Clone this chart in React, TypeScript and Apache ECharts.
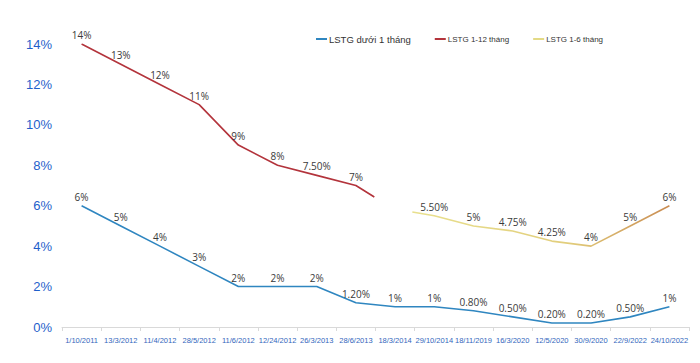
import React, { useEffect, useRef } from "react";
import * as echarts from "echarts";

const categories = [
  "1/10/2011", "13/3/2012", "11/4/2012", "28/5/2012", "11/6/2012", "12/24/2012",
  "26/3/2013", "28/6/2013", "18/3/2014", "29/10/2014", "18/11/2019", "16/3/2020",
  "12/5/2020", "30/9/2020", "22/9/2022", "24/10/2022",
];
const blueValues = [6, 5, 4, 3, 2, 2, 2, 1.2, 1, 1, 0.8, 0.5, 0.2, 0.2, 0.5, 1];
const redValues = [14, 13, 12, 11, 9, 8, 7.5, 7];
const redTail: [number, number] = [7.47, 6.43];
const yellowStartIndex = 9;
const yellowValues = [5.5, 5, 4.75, 4.25, 4, 5, 6];
const yellowHead: [number, number] = [8.44, 5.69];
const yTicks = { min: 0, max: 14, interval: 2 };
const seriesNames = ["LSTG dưới 1 tháng", "LSTG 1-12 tháng", "LSTG 1-6 tháng"];

const fmt = (v: number) => (Number.isInteger(v) ? `${v}%` : `${v.toFixed(2)}%`);

export default function App() {
  const ref = useRef<HTMLDivElement>(null);
  useEffect(() => {
    if (!ref.current) return;
    const chart = echarts.init(ref.current, null, { renderer: "svg" });
    const labelStyle = {
      show: true,
      position: "top" as const,
      distance: 4,
      fontSize: 10,
      color: "#3A3A3A",
      fontFamily: "Open Sans, Liberation Sans, sans-serif",
      formatter: (p: any) => fmt(p.value[1]),
    };
    const blueData = blueValues.map((v, i) => [i, v]);
    const redData: any[] = redValues.map((v, i) => [i, v]);
    redData.push({ value: redTail, label: { show: false } });
    const yellowData: any[] = [{ value: yellowHead, label: { show: false } }];
    yellowValues.forEach((v, i) => yellowData.push([yellowStartIndex + i, v]));

    chart.setOption({
      animation: false,
      backgroundColor: "#ffffff",
      textStyle: { fontFamily: "Liberation Sans, Arial, sans-serif" },
      legend: {
        left: 316,
        top: 34,
        icon: "rect",
        itemWidth: 11,
        itemHeight: 2,
        itemGap: 24,
        padding: 0,
        textStyle: { fontSize: 9.5, color: "#333333", padding: [0, 0, 0, -3] },
        data: [
          { name: seriesNames[0] },
          { name: seriesNames[1], textStyle: { fontSize: 8 } },
          { name: seriesNames[2], textStyle: { fontSize: 8 } },
        ],
      },
      grid: { left: 62, right: 11, top: 44, bottom: 36, containLabel: false },
      xAxis: [
        {
          type: "category",
          data: categories,
          boundaryGap: true,
          axisLine: { lineStyle: { color: "#D9D9D9", width: 1 } },
          axisTick: { show: true, length: 4, lineStyle: { color: "#D9D9D9" } },
          axisLabel: { interval: 0, fontSize: 7.5, color: "#3266BC", margin: 9 },
          splitLine: { show: false },
        },
        {
          type: "value",
          min: -0.5,
          max: categories.length - 0.5,
          show: false,
          splitLine: { show: false },
        },
      ],
      yAxis: {
        type: "value",
        min: yTicks.min,
        max: yTicks.max,
        interval: yTicks.interval,
        axisLine: { show: false },
        axisTick: { show: false },
        splitLine: { show: false },
        axisLabel: {
          formatter: "{value}%",
          fontSize: 13,
          color: "#1F5FCB",
          margin: 10,
        },
      },
      series: [
        {
          name: seriesNames[0],
          type: "line",
          xAxisIndex: 1,
          data: blueData,
          symbol: "circle",
          symbolSize: 0,
          itemStyle: { color: "#2F86C0" },
          lineStyle: { color: "#2F86C0", width: 1.6 },
          label: labelStyle,
        },
        {
          name: seriesNames[1],
          type: "line",
          xAxisIndex: 1,
          data: redData,
          symbol: "circle",
          symbolSize: 0,
          itemStyle: { color: "#B3343C" },
          lineStyle: { color: "#B3343C", width: 1.6 },
          label: labelStyle,
        },
        {
          name: seriesNames[2],
          type: "line",
          xAxisIndex: 1,
          data: yellowData,
          symbol: "circle",
          symbolSize: 0,
          itemStyle: { color: "#E3DA86" },
          lineStyle: {
            width: 1.6,
            color: new echarts.graphic.LinearGradient(0, 0, 1, 0, [
              { offset: 0, color: "#E8E08E" },
              { offset: 0.6, color: "#E2CE7C" },
              { offset: 1, color: "#C98C52" },
            ]),
          },
          label: labelStyle,
        },
      ],
    });
    return () => chart.dispose();
  }, []);
  return (
    <div
      ref={ref}
      style={{ position: "fixed", left: 0, top: 0, width: 700, height: 363 }}
    />
  );
}
